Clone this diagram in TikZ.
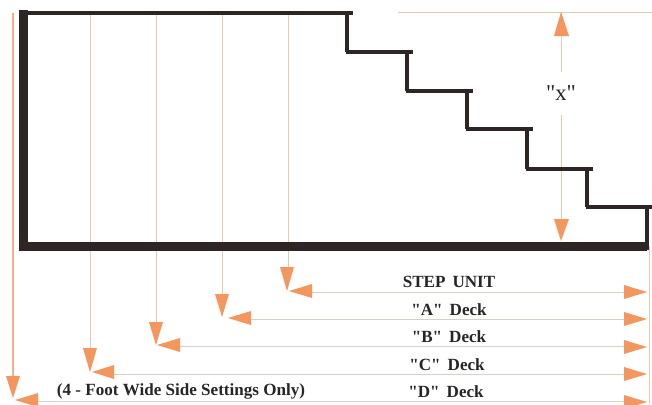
\documentclass[tikz,border=0pt]{standalone}
\usepackage{fontspec}
\newfontfamily\lblfont{Liberation Serif}
\definecolor{wall}{HTML}{2E2624}
\definecolor{tip}{HTML}{F4975F}
\definecolor{dimline}{HTML}{EAC9AE}
\definecolor{runline}{HTML}{D9CFC2}
\tikzset{
  outline/.style={draw=wall,line width=3.2pt,line cap=butt},
  heavy/.style={draw=wall,line width=6.6pt,line cap=butt},
  stepwall/.style={draw=wall,line width=3pt,line cap=butt},
  dimrule/.style={draw=dimline,line width=0.7pt},
  runrule/.style={draw=runline,line width=0.7pt},
  leader/.style={draw=tip!75!white,line width=1.5pt},
  tiparrow/.style={fill=tip,draw=none},
  lbl/.style={font=\lblfont\bfseries\fontsize{12.8}{14}\selectfont,text=black!85,inner sep=0pt,anchor=center}
}
\begin{document}
\begin{tikzpicture}[x=0.75pt,y=-0.75pt]
\useasboundingbox (0,0) rectangle (652,404);
\fill[white] (0,0) rectangle (652,404);
\coordinate (tl) at (19,13);
\coordinate (tr) at (353,13);
% dimension and leader lines under the outline
\draw[leader] (13,13) -- (13,380);
\draw[dimrule] (90,15) -- (90,350);
\draw[dimrule] (156,15) -- (156,324);
\draw[dimrule] (222,15) -- (222,296);
\draw[dimrule] (288,15) -- (288,269);
\draw[dimrule] (649,246) -- (649,404);
\draw[dimrule] (398,12) -- (652,12);
\draw[dimrule] (561,12) -- (561,72);
\draw[dimrule] (561,115) -- (561,222);
\draw[runrule] (310,292) -- (630,292);
\draw[runrule] (249,319) -- (630,319);
\draw[runrule] (178,346) -- (630,346);
\draw[runrule] (112,374) -- (630,374);
\draw[runrule] (36,401) -- (630,401);
% outline
\draw[outline] (tl) -- (tr);
\draw[heavy] (23.5,10) -- (23.5,251);
\draw[heavy] (23,246.5) -- (647,246.5);
\draw[stepwall] (347,13) -- (347,52);
\draw[stepwall] (345.5,52) -- (413,52);
\draw[stepwall] (407,52) -- (407,91);
\draw[stepwall] (405.5,91) -- (473,91);
\draw[stepwall] (467,91) -- (467,129);
\draw[stepwall] (465.5,129) -- (533,129);
\draw[stepwall] (527,129) -- (527,169);
\draw[stepwall] (525.5,169) -- (593,169);
\draw[stepwall] (587,169) -- (587,207);
\draw[stepwall] (585.5,207) -- (652,207);
\draw[stepwall] (647,205.5) -- (647,250);
% arrowheads
\path[tiparrow]
  (13,398) -- (6,376) -- (20,376) -- cycle
  (90,372) -- (83,348) -- (97,348) -- cycle
  (156,345) -- (149,322) -- (163,322) -- cycle
  (222,317) -- (215,294) -- (229,294) -- cycle
  (287,291) -- (280,267) -- (294,267) -- cycle
  (289,291) -- (312,284) -- (312,298) -- cycle
  (228,318) -- (251,311) -- (251,325) -- cycle
  (157,345) -- (180,338) -- (180,352) -- cycle
  (92,372) -- (114,365) -- (114,379) -- cycle
  (15,400) -- (38,393) -- (38,407) -- cycle
  (647,292) -- (624,285) -- (624,299) -- cycle
  (647,319) -- (624,312) -- (624,326) -- cycle
  (647,347) -- (624,340) -- (624,354) -- cycle
  (647,374) -- (624,367) -- (624,381) -- cycle
  (647,402) -- (624,395) -- (624,409) -- cycle
  (561,12) -- (554,36) -- (569,36) -- cycle
  (561,241) -- (554,219) -- (569,219) -- cycle;
% labels
\node[font=\lblfont\fontsize{17}{19}\selectfont,text=black!85,inner sep=0pt] (xlab) at (561,93) {"x"};
\node[lbl] (step) at (449,282) {STEP\, UNIT};
\node[lbl] (a) at (449,310) {"A"\, Deck};
\node[lbl] (b) at (449,337) {"B"\, Deck};
\node[lbl] (c) at (447,365) {"C"\, Deck};
\node[lbl] (d) at (446,392) {"D"\, Deck};
\node[lbl] (note) at (181,391) {(4 - Foot Wide Side Settings Only)};
\end{tikzpicture}
\end{document}
